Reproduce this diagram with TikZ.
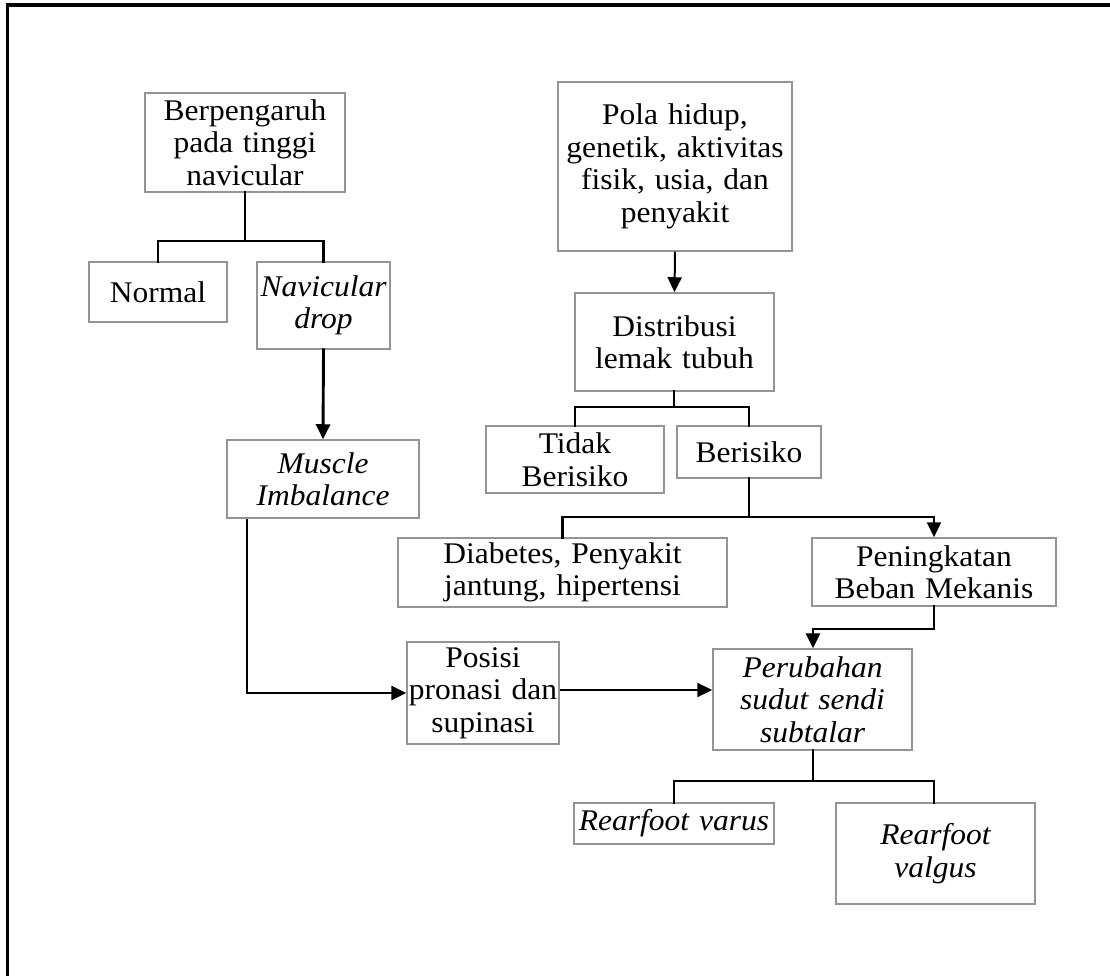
\documentclass[tikz,border=0pt]{standalone}
\usepackage{fontspec}
\setmainfont{Liberation Serif}[FakeStretch=1.05]
\usetikzlibrary{arrows.meta,calc}
\definecolor{boxgray}{gray}{0.58}
\begin{document}
\begin{tikzpicture}[x=1pt,y=-1pt,
  box/.style={draw=boxgray,line width=1.5pt,inner sep=0pt,align=center,
    font=\fontsize{30}{32.5}\selectfont},
  conn/.style={line width=2.9pt,line cap=rect},
  thinconn/.style={line width=2pt},
  arr/.style={-{Triangle[length=15pt,width=14pt]}},
]
\useasboundingbox (0,0) rectangle (1110,976);
\draw[line width=3.2pt] (7.5,976) -- (7.5,5) -- (1110,5);

% nodes
\node[box,minimum width=200pt,minimum height=99pt,text width=198pt] (b1) at (245,142.5) {Berpengaruh\\pada tinggi\\navicular};
\node[box,minimum width=138pt,minimum height=60pt,text width=136pt] (normal) at (158,292) {Normal};
\node[box,minimum width=133pt,minimum height=87pt,text width=131pt] (nav) at (323.5,305.5) {\itshape Navicular\\\itshape drop};
\node[box,minimum width=192pt,minimum height=78pt,text width=190pt] (mi) at (323,479) {\itshape Muscle\\\itshape Imbalance};
\node[box,minimum width=152pt,minimum height=102pt,text width=152pt] (pos) at (483,693) {Posisi\\pronasi dan\\supinasi};
\node[box,minimum width=234pt,minimum height=169pt,text width=232pt] (pola) at (675,166.5) {Pola hidup,\\genetik, aktivitas\\fisik, usia, dan\\penyakit};
\node[box,minimum width=199pt,minimum height=98pt,text width=197pt] (dist) at (674.5,342) {Distribusi\\lemak tubuh};
\node[box,minimum width=178pt,minimum height=67pt,text width=176pt] (tidak) at (575,459.5) {Tidak\\Berisiko};
\node[box,minimum width=144pt,minimum height=52pt,text width=142pt] (beris) at (749,452) {Berisiko};
\node[box,minimum width=329pt,minimum height=69pt,text width=327pt] (diab) at (562.5,572.5) {Diabetes, Penyakit\\jantung, hipertensi};
\node[box,minimum width=244pt,minimum height=68pt,text width=242pt] (pen) at (934,572) {Peningkatan\\Beban Mekanis};
\node[box,minimum width=199pt,minimum height=101pt,text width=197pt] (peru) at (812.5,699.5) {\itshape Perubahan\\\itshape sudut sendi\\\itshape subtalar};
\node[box,minimum width=200pt,minimum height=41pt,text width=198pt] (varus) at (674,823.5) {\itshape Rearfoot varus};
\node[box,minimum width=199pt,minimum height=101pt,text width=197pt] (valgus) at (935.5,853.5) {\itshape Rearfoot\\\itshape valgus};

% junction coordinates
\coordinate (j1) at (245,241);
\coordinate (j2) at (247,693);
\coordinate (j3) at (674,407);
\coordinate (j4) at (749,517);
\coordinate (j5) at (934,629);
\coordinate (j6) at (813,781);

% connectors
\draw[conn] (b1.south) -- (j1);
\draw[conn] (normal.north) |- (j1) -| (nav.north);
\draw[conn,arr] (nav.south) -- (mi.north);
\draw[conn,arr,line cap=butt] (mi.south -| j2) -- (j2) -- (pos.west);
\draw[thinconn,arr] ([yshift=3pt]pos.east) -- ([yshift=3pt]pos.east -| peru.west);
\draw[thinconn,arr] (pola.south) -- (dist.north);
\draw[conn] (dist.south -| j3) -- (j3);
\draw[conn] (tidak.north) |- (j3) -| (beris.north);
\draw[conn] (beris.south) -- (j4);
\draw[conn] (diab.north) |- (j4);
\draw[thinconn,arr] (j4) -| (pen.north);
\draw[conn,arr] (pen.south) -- (j5) -| ([xshift=0.5pt]peru.north);
\draw[conn] ([xshift=0.5pt]peru.south) -- (j6);
\draw[conn] (varus.north) |- (j6) -| ([xshift=-1.5pt]valgus.north);
\end{tikzpicture}
\end{document}
